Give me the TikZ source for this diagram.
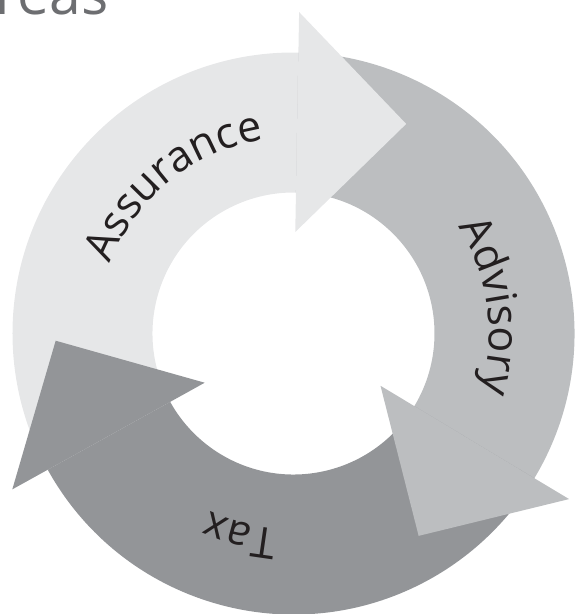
\documentclass[tikz,border=0pt]{standalone}
\usepackage{fontspec}
\setmainfont{Open Sans}
\usetikzlibrary{decorations.text}
\newcommand{\labelfont}{\fontsize{43}{50}\selectfont}
\definecolor{CycPale}{HTML}{E6E7E8}
\definecolor{CycMid}{HTML}{BCBEC0}
\definecolor{CycDeep}{HTML}{939598}
\definecolor{InkBlack}{HTML}{231F20}
\definecolor{TitleGray}{HTML}{6D6E71}

\begin{document}
\begin{tikzpicture}[x=1pt, y=1pt]
        \path[use as bounding box, clip] (-293.5,-280.5) rectangle (282.5,333.5);
        % ring pieces first, then the heads over the next piece
        \foreach \r/\c in {0/CycPale,-120/CycMid,120/CycDeep}
            {
                \fill[\c, rotate=\r-1] (90:281) arc[start angle=90, end angle=210, radius=281] -- (210:141) arc[start angle=210, end angle=90, radius=141] -- cycle;
            }
        \foreach \r/\c in {0/CycPale,-120/CycMid,120/CycDeep}
            {
                \fill[\c, rotate=\r-1] (0,101.5) -- (0,321.5) -- (109,211.5) -- cycle;
            }
        \foreach \a/\w in {129/Assurance,8/Advisory,255/Tax}
            {
                \path[decorate, decoration={text along path, text align=center, text color=InkBlack, text/.expanded={|\noexpand\labelfont|\w}}] (\a+60:196) arc[start angle=\a+60, end angle=\a-60, radius=196];
            }
        \node[anchor=base west, inner sep=0pt, text=TitleGray, font=\fontsize{57}{64}\selectfont] (title) at (-298,318.5) {reas};
\end{tikzpicture}
\end{document}
